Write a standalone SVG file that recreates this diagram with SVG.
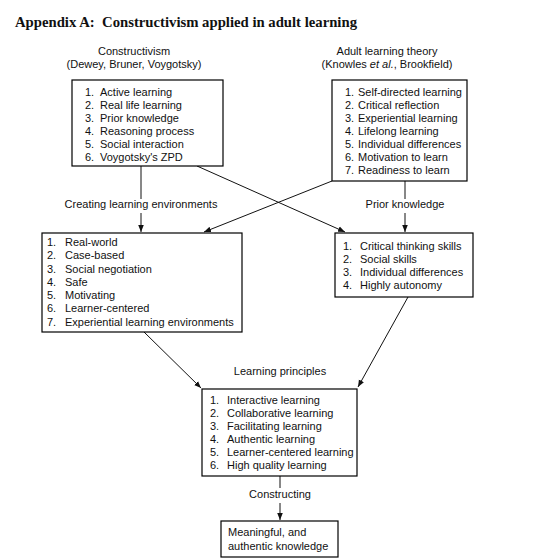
<svg xmlns="http://www.w3.org/2000/svg" width="546" height="560" viewBox="0 0 546 560">
<style>
text{font-family:"Liberation Sans",Arial,sans-serif;font-size:11px;fill:#111}
.title{font-family:"Liberation Serif","Times New Roman",serif;font-size:14.5px;font-weight:bold;white-space:pre}
.c{text-anchor:middle}
rect{fill:#fff;stroke:#000;stroke-width:1.2}
.ln{stroke:#111;stroke-width:1;fill:none}
.ar{stroke:#111;stroke-width:1;fill:none;marker-end:url(#ah)}
</style>
<defs>
<marker id="ah" viewBox="0 0 10 10" refX="10" refY="5" markerWidth="7" markerHeight="7" markerUnits="userSpaceOnUse" orient="auto">
<path d="M0,1 L10,5 L0,9 z" fill="#111"/>
</marker>
</defs>
<rect x="0" y="0" width="546" height="560" style="fill:#fff;stroke:none"/>
<text class="title" x="15" y="27" textLength="342" lengthAdjust="spacingAndGlyphs">Appendix A:  Constructivism applied in adult learning</text>

<g id="hdr-constructivism">
<text class="c" x="134" y="55">Constructivism</text>
<text class="c" x="134" y="68">(Dewey, Bruner, Voygotsky)</text>
</g>
<g id="hdr-adult">
<text class="c" x="387" y="55">Adult learning theory</text>
<text class="c" x="387" y="68">(Knowles <tspan font-style="italic">et al.</tspan>, Brookfield)</text>
</g>

<g id="connectors">
<line class="ln" x1="141" y1="166" x2="141" y2="199"/>
<line class="ar" x1="141" y1="213" x2="141" y2="232"/>
<line class="ln" x1="405" y1="181" x2="405" y2="199"/>
<line class="ar" x1="405" y1="213" x2="405" y2="232"/>
<line class="ar" x1="197" y1="166" x2="345" y2="232"/>
<line class="ar" x1="332" y1="181" x2="204" y2="232"/>
<line class="ar" x1="144" y1="332" x2="201" y2="388"/>
<line class="ar" x1="408" y1="297" x2="358" y2="387"/>
<line class="ln" x1="280" y1="476" x2="280" y2="488"/>
<line class="ar" x1="280" y1="503" x2="280" y2="520"/>
</g>

<g id="labels">
<text class="c" x="141" y="208">Creating learning environments</text>
<text class="c" x="405" y="208">Prior knowledge</text>
<text class="c" x="280" y="375">Learning principles</text>
<text class="c" x="280" y="498">Constructing</text>
</g>

<g id="box-constructivism">
<rect x="72" y="80" width="151" height="86"/>
<text x="85" y="96">1.</text><text x="100" y="96">Active learning</text>
<text x="85" y="109">2.</text><text x="100" y="109">Real life learning</text>
<text x="85" y="122">3.</text><text x="100" y="122">Prior knowledge</text>
<text x="85" y="135">4.</text><text x="100" y="135">Reasoning process</text>
<text x="85" y="148">5.</text><text x="100" y="148">Social interaction</text>
<text x="85" y="161">6.</text><text x="100" y="161">Voygotsky's ZPD</text>
</g>

<g id="box-adult">
<rect x="332" y="80" width="135" height="101"/>
<text x="345" y="96">1.</text><text x="358" y="96">Self-directed learning</text>
<text x="345" y="109">2.</text><text x="358" y="109">Critical reflection</text>
<text x="345" y="122">3.</text><text x="358" y="122">Experiential learning</text>
<text x="345" y="135">4.</text><text x="358" y="135">Lifelong learning</text>
<text x="345" y="148">5.</text><text x="358" y="148">Individual differences</text>
<text x="345" y="161">6.</text><text x="358" y="161">Motivation to learn</text>
<text x="345" y="174">7.</text><text x="358" y="174">Readiness to learn</text>
</g>

<g id="box-environments">
<rect x="42" y="233" width="200" height="99"/>
<text x="47" y="246">1.</text><text x="65" y="246">Real-world</text>
<text x="47" y="259">2.</text><text x="65" y="259">Case-based</text>
<text x="47" y="272.5">3.</text><text x="65" y="272.5">Social negotiation</text>
<text x="47" y="286">4.</text><text x="65" y="286">Safe</text>
<text x="47" y="299">5.</text><text x="65" y="299">Motivating</text>
<text x="47" y="312">6.</text><text x="65" y="312">Learner-centered</text>
<text x="47" y="325.5">7.</text><text x="65" y="325.5">Experiential learning environments</text>
</g>

<g id="box-prior">
<rect x="335" y="233" width="138" height="64"/>
<text x="343" y="250">1.</text><text x="360" y="250">Critical thinking skills</text>
<text x="343" y="263">2.</text><text x="360" y="263">Social skills</text>
<text x="343" y="276">3.</text><text x="360" y="276">Individual differences</text>
<text x="343" y="289">4.</text><text x="360" y="289">Highly autonomy</text>
</g>

<g id="box-principles">
<rect x="202" y="389" width="155" height="87"/>
<text x="210" y="404">1.</text><text x="227" y="404">Interactive learning</text>
<text x="210" y="417">2.</text><text x="227" y="417">Collaborative learning</text>
<text x="210" y="430">3.</text><text x="227" y="430">Facilitating learning</text>
<text x="210" y="443">4.</text><text x="227" y="443">Authentic learning</text>
<text x="210" y="456">5.</text><text x="227" y="456">Learner-centered learning</text>
<text x="210" y="469">6.</text><text x="227" y="469">High quality learning</text>
</g>

<g id="box-knowledge">
<rect x="221" y="521" width="117" height="36"/>
<text x="228" y="536">Meaningful, and</text>
<text x="228" y="550">authentic knowledge</text>
</g>
</svg>
